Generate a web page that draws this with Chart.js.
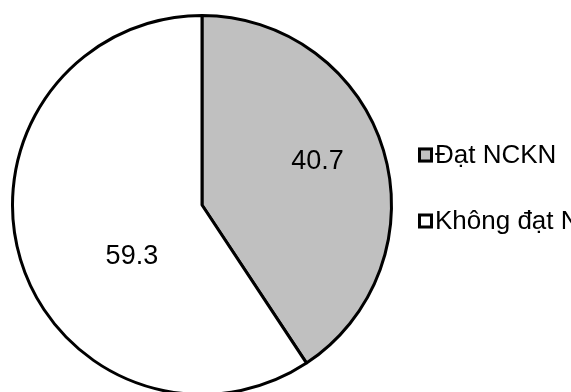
<!DOCTYPE html>
<html lang="vi">
<head>
    <meta charset="UTF-8">
    <title>Đạt NCKN</title>
    <style>
        body {
            margin: 0;
            background-color: #ffffff;
        }
        /* the legend runs past the right edge, like in the original */
        #wrap {
            width: 571px;
            height: 392px;
            overflow: hidden;
        }
    </style>
</head>
<body>
    <div id="wrap">
        <canvas id="pieChart" width="571" height="400"></canvas>
    </div>

    <script src="https://cdn.jsdelivr.net/npm/chart.js"></script>
    <script>
        // chart data
        const labels = ['Đạt NCKN', 'Không đạt NCKN'];
        const values = [40.7, 59.3];
        const sliceColors = ['#C0C0C0', '#FFFFFF'];

        const FONT = '"Liberation Sans", Arial, sans-serif';

        // where each value label sits, as a fraction of the pie radius from the centre
        const labelOffsets = [[0.61, -0.23], [-0.37, 0.27]];

        // draw the value labels on the slices
        const valueLabels = {
            id: 'valueLabels',
            afterDatasetsDraw(chart) {
                const ctx = chart.ctx;
                const arcs = chart.getDatasetMeta(0).data;
                ctx.save();
                ctx.font = '27px ' + FONT;
                ctx.fillStyle = '#000';
                ctx.textAlign = 'center';
                ctx.textBaseline = 'middle';
                arcs.forEach((arc, i) => {
                    const r = arc.outerRadius;
                    ctx.fillText(String(values[i]),
                        arc.x + labelOffsets[i][0] * r,
                        arc.y + labelOffsets[i][1] * r);
                });
                ctx.restore();
            }
        };

        // simple legend to the right of the pie (squares with black border)
        const sideLegend = {
            id: 'sideLegend',
            afterDraw(chart) {
                const ctx = chart.ctx;
                const left = 418;
                const rowY = [155, 221];
                const box = 15;
                ctx.save();
                ctx.font = '26px ' + FONT;
                ctx.textBaseline = 'middle';
                labels.forEach((text, i) => {
                    const y = rowY[i];
                    ctx.fillStyle = sliceColors[i];
                    ctx.fillRect(left, y - box / 2, box, box);
                    ctx.lineWidth = 3;
                    ctx.strokeStyle = '#000';
                    ctx.strokeRect(left + 1.5, y - box / 2 + 1.5, box - 3, box - 3);
                    ctx.fillStyle = '#000';
                    ctx.fillText(text, left + box + 2, y + 1);
                });
                ctx.restore();
            }
        };

        const ctx = document.getElementById('pieChart').getContext('2d');
        new Chart(ctx, {
            type: 'pie',
            data: {
                labels: labels,
                datasets: [{
                    data: values,
                    backgroundColor: sliceColors,
                    borderColor: '#000000',
                    borderWidth: 3
                }]
            },
            options: {
                responsive: false,
                animation: false,
                layout: {
                    padding: { left: 11, top: 14, right: 178, bottom: 4 }
                },
                plugins: {
                    legend: { display: false },
                    tooltip: { enabled: false }
                }
            },
            plugins: [valueLabels, sideLegend]
        });
    </script>
</body>
</html>
